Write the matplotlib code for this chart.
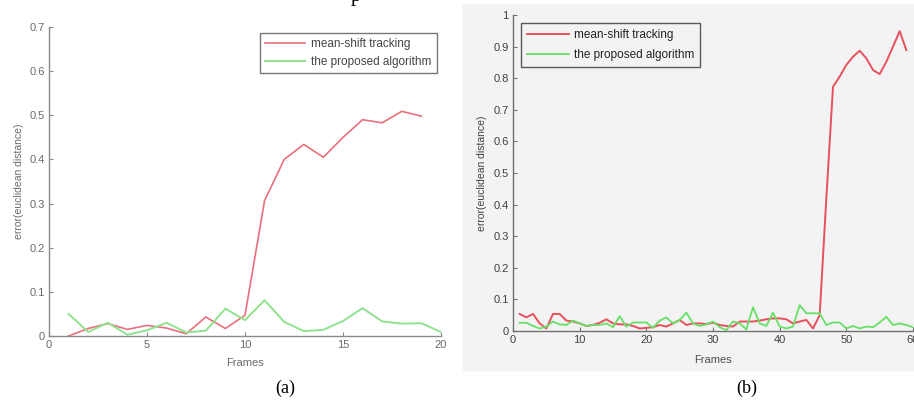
"""
Tracking error comparison: mean-shift vs. the proposed algorithm.
Two panels, (a) 20-frame sequence and (b) 60-frame sequence.
Saves out.png (914x400).
"""
import matplotlib
matplotlib.use("Agg")
import matplotlib.pyplot as plt
from matplotlib.patches import Rectangle

# ---- data ----
A_FRAMES_MS = list(range(1, 20))
A_MEANSHIFT = [0.0, 0.017, 0.028, 0.015, 0.024, 0.018, 0.005, 0.043, 0.017, 0.047,
               0.307, 0.400, 0.434, 0.405, 0.450, 0.490, 0.483, 0.509, 0.498]
A_FRAMES_PR = list(range(1, 21))
A_PROPOSED = [0.050, 0.009, 0.030, 0.003, 0.013, 0.030, 0.008, 0.012, 0.062, 0.036,
              0.081, 0.032, 0.011, 0.014, 0.034, 0.063, 0.033, 0.028, 0.029, 0.009]

B_FRAMES_MS = list(range(1, 60))
B_MEANSHIFT = [0.054, 0.043, 0.054, 0.024, 0.008, 0.054, 0.054, 0.033, 0.030, 0.024,
               0.016, 0.019, 0.026, 0.037, 0.024, 0.021, 0.021, 0.016, 0.008, 0.010,
               0.012, 0.019, 0.014, 0.024, 0.035, 0.019, 0.024, 0.024, 0.022, 0.026,
               0.019, 0.016, 0.014, 0.030, 0.030, 0.030, 0.033, 0.037, 0.040, 0.040,
               0.037, 0.024, 0.030, 0.035, 0.008, 0.050, 0.420, 0.773, 0.805, 0.842,
               0.868, 0.887, 0.863, 0.826, 0.813, 0.852, 0.900, 0.949, 0.889]
B_FRAMES_PR = list(range(1, 61))
B_PROPOSED = [0.026, 0.026, 0.016, 0.008, 0.014, 0.030, 0.021, 0.019, 0.033, 0.024,
              0.016, 0.019, 0.019, 0.024, 0.012, 0.047, 0.014, 0.027, 0.027, 0.027,
              0.010, 0.033, 0.043, 0.024, 0.035, 0.058, 0.024, 0.016, 0.021, 0.030,
              0.012, 0.003, 0.030, 0.024, 0.005, 0.075, 0.024, 0.016, 0.058, 0.014,
              0.008, 0.014, 0.082, 0.056, 0.056, 0.056, 0.019, 0.027, 0.027, 0.008,
              0.016, 0.008, 0.014, 0.012, 0.027, 0.045, 0.019, 0.024, 0.019, 0.012]

A_XTICKS = [0, 5, 10, 15, 20]
A_YTICKS = [0, 0.1, 0.2, 0.3, 0.4, 0.5, 0.6, 0.7]
A_YTICKLABELS = ["0", "0.1", "0.2", "0.3", "0.4", "0.5", "0.6", "0.7"]
B_XTICKS = [0, 10, 20, 30, 40, 50, 60]
B_YTICKS = [0, 0.1, 0.2, 0.3, 0.4, 0.5, 0.6, 0.7, 0.8, 0.9, 1.0]
B_YTICKLABELS = ["0", "0.1", "0.2", "0.3", "0.4", "0.5", "0.6", "0.7", "0.8", "0.9", "1"]

LABELS = ["mean-shift tracking", "the proposed algorithm"]
XLABEL = "Frames"
YLABEL = "error(euclidean distance)"

W, H = 914, 400
SANS = "Liberation Sans"
SERIF = "Liberation Serif"
PANEL_BG = "#f3f3f3"


def px(x0, y0, x1, y1):
    """pixel box (top-left origin) -> figure fraction [l, b, w, h]"""
    return [x0 / W, 1 - y1 / H, (x1 - x0) / W, (y1 - y0) / H]


def style_axes(ax, spine_col, tick_col, fs):
    for s in ("top", "right"):
        ax.spines[s].set_visible(False)
    for s in ("left", "bottom"):
        ax.spines[s].set_color(spine_col)
        ax.spines[s].set_linewidth(1.0)
    ax.tick_params(direction="in", length=3, width=0.8, color=spine_col,
                   labelcolor=tick_col, labelsize=fs, pad=3)
    for lab in ax.get_xticklabels() + ax.get_yticklabels():
        lab.set_family(SANS)


fig = plt.figure(figsize=(W / 100, H / 100), dpi=100)

# light gray backdrop of panel (b), kept behind the axes
fig.patches.append(Rectangle((463 / W, 1 - 370 / H), 1 - 463 / W, 366 / H,
                             transform=fig.transFigure, color=PANEL_BG, zorder=-10))

# partial caption glyph clipped at the top edge (as in the source scan)
fig.text(356 / W, 1 - 0.5 / H, "p", family=SERIF, fontsize=15, color="black",
         ha="center", va="baseline")

# ---- panel (a) ----
ax = fig.add_axes(px(49, 27, 441, 336))
ax.set_zorder(1)
ax.set_facecolor("white")
ax.plot(A_FRAMES_MS, A_MEANSHIFT, color="#e8707c", lw=1.2, label=LABELS[0])
ax.plot(A_FRAMES_PR, A_PROPOSED, color="#8fe38f", lw=1.4, label=LABELS[1])
ax.set_xlim(0, 20)
ax.set_ylim(0, 0.7)
ax.set_xticks(A_XTICKS)
ax.set_xticklabels([str(t) for t in A_XTICKS])
ax.set_yticks(A_YTICKS)
ax.set_yticklabels(A_YTICKLABELS)
style_axes(ax, "#8a8a8a", "#6a6a6a", 8)
ax.set_xlabel(XLABEL, family=SANS, fontsize=8, color="#6a6a6a", labelpad=6)
ax.set_ylabel(YLABEL, family=SANS, fontsize=7.5, color="#6a6a6a", labelpad=4)
leg = ax.legend(loc="upper right", bbox_to_anchor=(0.99, 0.98), frameon=True,
                fancybox=False, prop={"family": SANS, "size": 8.5},
                handlelength=3.4, handletextpad=0.5, borderpad=0.45,
                labelspacing=0.45, borderaxespad=0)
leg.get_frame().set_edgecolor("#555555")
leg.get_frame().set_linewidth(1.0)
for t in leg.get_texts():
    t.set_color("#444444")

fig.text(285 / W, 1 - 388 / H, "(a)", family=SERIF, fontsize=13,
         ha="center", va="center")

# ---- panel (b) ----
bx = fig.add_axes(px(513, 15, 913, 331))
bx.set_zorder(1)
bx.set_facecolor(PANEL_BG)
bx.plot(B_FRAMES_MS, B_MEANSHIFT, color="#e8505c", lw=1.4, label=LABELS[0])
bx.plot(B_FRAMES_PR, B_PROPOSED, color="#66e066", lw=1.3, label=LABELS[1])
bx.set_xlim(0, 60)
bx.set_ylim(0, 1)
bx.set_xticks(B_XTICKS)
bx.set_xticklabels([str(t) for t in B_XTICKS])
bx.set_yticks(B_YTICKS)
bx.set_yticklabels(B_YTICKLABELS)
style_axes(bx, "#707070", "#404040", 8)
bx.set_xlabel(XLABEL, family=SANS, fontsize=8, color="#505050", labelpad=7)
bx.set_ylabel(YLABEL, family=SANS, fontsize=7.5, color="#404040", labelpad=5)
leg = bx.legend(loc="upper left", bbox_to_anchor=(0.02, 0.975), frameon=True,
                fancybox=False, prop={"family": SANS, "size": 8.5},
                handlelength=3.6, handletextpad=0.4, borderpad=0.5,
                labelspacing=0.7, borderaxespad=0)
leg.get_frame().set_edgecolor("#333333")
leg.get_frame().set_facecolor(PANEL_BG)
leg.get_frame().set_linewidth(1.0)
for t in leg.get_texts():
    t.set_color("#222222")

fig.text(747 / W, 1 - 388 / H, "(b)", family=SERIF, fontsize=13,
         ha="center", va="center")

fig.savefig("out.png", dpi=100)
